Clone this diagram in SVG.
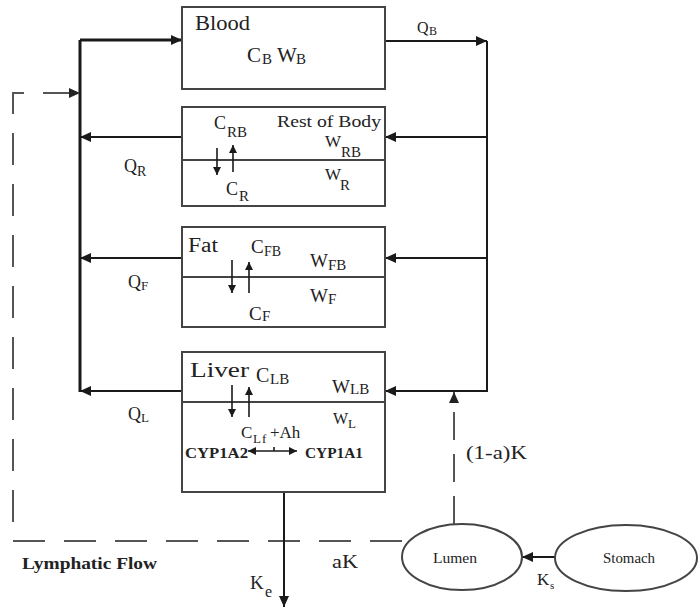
<svg xmlns="http://www.w3.org/2000/svg" width="698" height="609" viewBox="0 0 698 609">
<style>
.box{fill:#fff;stroke:#444;stroke-width:2}
.div{stroke:#444;stroke-width:2}
text{font-family:"Liberation Serif","Times New Roman","DejaVu Serif","Noto Serif",serif;fill:#222}
.b{font-weight:bold}
.ln{fill:none;stroke:#1a1a1a;stroke-width:2}
.bold{stroke-width:3}
.dash{fill:none;stroke:#555;stroke-width:2;stroke-dasharray:32 19}
.dash2{fill:none;stroke:#555;stroke-width:2;stroke-dasharray:28 14}
.ia{fill:none;stroke:#1a1a1a;stroke-width:1.6}
</style>
<defs>
<marker id="ah" markerUnits="userSpaceOnUse" markerWidth="12" markerHeight="10" refX="11" refY="5" orient="auto-start-reverse"><path d="M0,0 L11,5 L0,10 z" fill="#1a1a1a"/></marker>
<marker id="ahs" markerUnits="userSpaceOnUse" markerWidth="9" markerHeight="8" refX="8" refY="4" orient="auto-start-reverse"><path d="M0,0 L8,4 L0,8 z" fill="#1a1a1a"/></marker>
<marker id="ahg" markerUnits="userSpaceOnUse" markerWidth="12" markerHeight="10" refX="11" refY="5" orient="auto"><path d="M0,0 L11,5 L0,10 z" fill="#222"/></marker>
</defs>
<rect width="698" height="609" fill="#fff"/>

<g id="connectors">
<path class="ln bold" d="M80,40 H182" marker-end="url(#ah)"/>
<path class="ln bold" d="M80,40 V392"/>
<path class="ln" d="M182,137 H80" marker-end="url(#ah)"/>
<path class="ln" d="M182,258 H80" marker-end="url(#ah)"/>
<path class="ln" d="M182,391 H80" marker-end="url(#ah)"/>
<path class="ln" d="M385,41 H487" marker-end="url(#ah)"/>
<path class="ln" d="M487,41 V392"/>
<path class="ln" d="M487,137 H385" marker-end="url(#ah)"/>
<path class="ln" d="M487,258 H385" marker-end="url(#ah)"/>
<path class="ln" d="M487,391 H385" marker-end="url(#ah)"/>
<path class="dash" d="M402,541 H13 V93 H80" marker-end="url(#ahg)"/>
<path class="dash2" d="M454,524 V392" marker-end="url(#ahg)"/>
<path class="ln" d="M284,492 V607" marker-end="url(#ah)"/>
<path class="ln" d="M555,557 H522" marker-end="url(#ah)"/>
</g>

<g id="blood">
<rect class="box" x="182" y="7" width="203" height="82"/>
<text x="195" y="30" font-size="21" textLength="55" lengthAdjust="spacingAndGlyphs">Blood</text>
<text font-size="21"><tspan x="247" y="62">C</tspan><tspan x="262" y="64" font-size="15">B</tspan><tspan x="277" y="62">W</tspan><tspan x="296" y="64" font-size="15">B</tspan></text>
</g>

<g id="rest-of-body">
<rect class="box" x="182" y="107" width="203" height="99"/>
<line class="div" x1="182" y1="160" x2="385" y2="160"/>
<text x="277" y="127" font-size="17" textLength="104" lengthAdjust="spacingAndGlyphs">Rest of Body</text>
<text font-size="18"><tspan x="214" y="129">C</tspan><tspan x="227" y="137" font-size="15">RB</tspan></text>
<text font-size="17"><tspan x="325" y="147">W</tspan><tspan x="341" y="157" font-size="15">RB</tspan></text>
<text font-size="17"><tspan x="325" y="180">W</tspan><tspan x="340" y="190" font-size="15">R</tspan></text>
<text font-size="18"><tspan x="226" y="195">C</tspan><tspan x="239" y="201" font-size="15">R</tspan></text>
<path class="ia" d="M217,148 V175" marker-end="url(#ahs)"/>
<path class="ia" d="M233,172 V145" marker-end="url(#ahs)"/>
</g>

<g id="fat">
<rect class="box" x="182" y="227" width="203" height="100"/>
<line class="div" x1="182" y1="277" x2="385" y2="277"/>
<text x="188" y="252" font-size="20" textLength="30" lengthAdjust="spacingAndGlyphs">Fat</text>
<text font-size="19"><tspan x="251" y="253">C</tspan><tspan x="264" y="256" font-size="14">FB</tspan></text>
<text font-size="19"><tspan x="310" y="267">W</tspan><tspan x="328" y="270" font-size="15">FB</tspan></text>
<text font-size="19"><tspan x="310" y="302">W</tspan><tspan x="328" y="304" font-size="15">F</tspan></text>
<text font-size="19"><tspan x="249" y="320">C</tspan><tspan x="262" y="321" font-size="15">F</tspan></text>
<path class="ia" d="M232,260 V293" marker-end="url(#ahs)"/>
<path class="ia" d="M249,293 V262" marker-end="url(#ahs)"/>
</g>

<g id="liver">
<rect class="box" x="182" y="352" width="203" height="140"/>
<line class="div" x1="182" y1="402" x2="385" y2="402"/>
<text x="190" y="377" font-size="20" textLength="59" lengthAdjust="spacingAndGlyphs">Liver</text>
<text font-size="20"><tspan x="256" y="382">C</tspan><tspan x="270" y="384" font-size="15">LB</tspan></text>
<text font-size="19"><tspan x="332" y="393">W</tspan><tspan x="350" y="394" font-size="15">LB</tspan></text>
<text font-size="16"><tspan x="333" y="424">W</tspan><tspan x="348" y="428" font-size="13">L</tspan></text>
<text font-size="17"><tspan x="241" y="438">C</tspan><tspan x="253" y="443" font-size="13">L</tspan><tspan x="262" y="443" font-size="13">f</tspan><tspan x="270" y="438">+Ah</tspan></text>
<text class="b" x="185" y="458" font-size="15" textLength="63" lengthAdjust="spacingAndGlyphs">CYP1A2</text>
<text class="b" x="305" y="458" font-size="15" textLength="58" lengthAdjust="spacingAndGlyphs">CYP1A1</text>
<path class="ia" d="M248,451 H297" marker-start="url(#ahs)" marker-end="url(#ahs)"/>
<path class="ia" d="M274,447 V451"/>
<path class="ia" d="M232,385 V417" marker-end="url(#ahs)"/>
<path class="ia" d="M249,417 V387" marker-end="url(#ahs)"/>
</g>

<g id="lumen">
<ellipse cx="462" cy="557" rx="60" ry="33" fill="#fff" stroke="#444" stroke-width="2"/>
<text x="433" y="563" font-size="14" textLength="44" lengthAdjust="spacingAndGlyphs">Lumen</text>
</g>

<g id="stomach">
<ellipse cx="626" cy="558" rx="71" ry="33" fill="#fff" stroke="#444" stroke-width="2"/>
<text x="603" y="563" font-size="14" textLength="52" lengthAdjust="spacingAndGlyphs">Stomach</text>
</g>

<g id="labels">
<text font-size="16"><tspan x="417" y="33">Q</tspan><tspan x="429" y="35" font-size="12">B</tspan></text>
<text font-size="18"><tspan x="124" y="172">Q</tspan><tspan x="137" y="176" font-size="14">R</tspan></text>
<text font-size="18"><tspan x="128" y="288">Q</tspan><tspan x="141" y="290" font-size="13">F</tspan></text>
<text font-size="18"><tspan x="128" y="420">Q</tspan><tspan x="141" y="422" font-size="13">L</tspan></text>
<text class="b" x="22" y="569" font-size="16" textLength="135" lengthAdjust="spacingAndGlyphs">Lymphatic Flow</text>
<text x="332" y="568" font-size="19" textLength="26" lengthAdjust="spacingAndGlyphs">aK</text>
<text font-size="19"><tspan x="250" y="589">K</tspan><tspan x="265" y="597" font-size="16">e</tspan></text>
<text x="466" y="459" font-size="19" textLength="61" lengthAdjust="spacingAndGlyphs">(1-a)K</text>
<text font-size="17"><tspan x="537" y="585">K</tspan><tspan x="550" y="589" font-size="11">s</tspan></text>
</g>
</svg>
